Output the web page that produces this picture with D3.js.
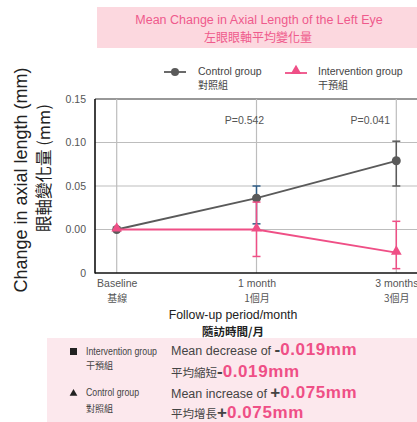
<!DOCTYPE html>
<html><head><meta charset="utf-8">
<script src="https://cdn.jsdelivr.net/npm/d3@7"></script>
<style>
html,body{margin:0;padding:0;background:#fff;}
text{font-family:"Liberation Sans",Arial,"Noto Sans CJK TC",sans-serif;}
</style></head>
<body>
<svg id="c" width="417" height="422"></svg>
<script>
const categories = ["Baseline", "1 month", "3 months"];
const categoriesZh = ["基線", "1個月", "3個月"];
const controlValues = [0, 0.036, 0.079];
const controlErrLow = [0, 0.0065, 0.050];
const controlErrHigh = [0, 0.050, 0.1015];
const interventionValues = [0, 0, -0.0265];
const interventionErrLow = [0, -0.031, -0.045];
const interventionErrHigh = [0, 0.0315, 0.0094];
const yTickValues = [-0.05, 0, 0.05, 0.10, 0.15];
const yTickLabels = ["0", "0.00", "0.05", "0.10", "0.15"];
const pLabels = ["", "P=0.542", "P=0.041"];

const svg = d3.select("#c");
const pink = "#ef4f86", grey = "#5a5a5a", cjk = '"Noto Sans CJK TC","Liberation Sans",sans-serif';
const sans = '"Liberation Sans",Arial,sans-serif';

// title box
svg.append("rect").attr("x",97).attr("y",7).attr("width",320).attr("height",41).attr("fill","#fcd8df");
svg.append("text").attr("x",259).attr("y",24).attr("text-anchor","middle").attr("font-size",12.5).attr("fill","#ef5a8c").text("Mean Change in Axial Length of the Left Eye");
svg.append("text").attr("x",258).attr("y",42).attr("text-anchor","middle").attr("font-size",12).attr("fill","#ef5a8c").style("font-family",cjk).text("左眼眼軸平均變化量");

// scales
const x = d3.scalePoint().domain(categories).range([116.7, 396.3]);
const y = d3.scaleLinear().domain([-0.05, 0.15]).range([273, 99]);
const left = 95, right = 440;

// grid
const g = svg.append("g");
g.selectAll(".hg").data(yTickValues.slice(1)).join("line")
  .attr("x1",left).attr("x2",right).attr("y1",d=>y(d)).attr("y2",d=>y(d))
  .attr("stroke",d=>d===0.15?"#333":"#bdbdbd").attr("stroke-width",1.2);
g.selectAll(".vg").data(categories).join("line")
  .attr("x1",d=>x(d)).attr("x2",d=>x(d)).attr("y1",y(0.15)).attr("y2",y(-0.05))
  .attr("stroke","#bdbdbd").attr("stroke-width",1.2);
// frame
g.append("line").attr("x1",left).attr("x2",left).attr("y1",y(0.15)).attr("y2",y(-0.05)+0.5).attr("stroke","#111").attr("stroke-width",1.6);
g.append("line").attr("x1",left).attr("x2",right).attr("y1",y(-0.05)).attr("y2",y(-0.05)).attr("stroke","#111").attr("stroke-width",1.6);

// y axis labels
const yAxis = d3.axisLeft(y).tickValues(yTickValues).tickSize(0).tickPadding(9)
  .tickFormat((d,i)=>yTickLabels[i]);
const ya = svg.append("g").attr("transform",`translate(${left},0)`).call(yAxis);
ya.select(".domain").remove();
ya.selectAll("text").attr("font-size",10.5).attr("fill","#555").style("font-family",sans);

// x axis labels
const xAxis = d3.axisBottom(x).tickSize(0).tickPadding(7);
const xa = svg.append("g").attr("transform",`translate(0,${y(-0.05)})`).call(xAxis);
xa.select(".domain").remove();
xa.selectAll("text").attr("font-size",10.5).attr("fill","#555").style("font-family",sans);
xa.selectAll(".tick").append("text").attr("y",22).attr("dy","0.71em").attr("fill","#555").attr("font-size",10)
  .style("font-family",cjk).text((d,i)=>categoriesZh[i]);

svg.append("text").attr("x",233).attr("y",319).attr("text-anchor","middle").attr("font-size",12.3).attr("fill","#222").text("Follow-up period/month");
svg.append("text").attr("x",233).attr("y",336).attr("text-anchor","middle").attr("font-size",11.5).attr("font-weight","bold").attr("fill","#222").style("font-family",cjk).text("隨訪時間/月");

// y title
svg.append("text").attr("transform","translate(27,180) rotate(-90)").attr("text-anchor","middle").attr("font-size",18).attr("fill","#222").text("Change in axial length (mm)");
svg.append("text").attr("transform","translate(50,168) rotate(-90)").attr("text-anchor","middle").attr("font-size",16.5).attr("fill","#222").style("font-family",cjk).text("眼軸變化量 (mm)");

// P labels
const pOffset = [0, -12, -26];
svg.selectAll(".p").data(categories).join("text")
  .attr("x",(d,i)=>x(d)+pOffset[i]).attr("y",124).attr("text-anchor","middle").attr("font-size",10.5).attr("fill","#555")
  .text((d,i)=>pLabels[i]);

// error bars
function errBars(lo, hi, colorFn){
  categories.forEach((c,i)=>{
    if (lo[i]===hi[i]) return;
    const cx = x(c), col = colorFn(i);
    svg.append("line").attr("x1",cx).attr("x2",cx).attr("y1",y(lo[i])).attr("y2",y(hi[i])).attr("stroke",col).attr("stroke-width",1.5);
    [lo[i],hi[i]].forEach(v=>svg.append("line").attr("x1",cx-4).attr("x2",cx+4).attr("y1",y(v)).attr("y2",y(v)).attr("stroke",col).attr("stroke-width",1.5));
  });
}
errBars(controlErrLow, controlErrHigh, i=>i===1?"#2f5d86":grey);

const line = d3.line().x((d,i)=>x(categories[i])).y(d=>y(d));
svg.append("path").datum(controlValues).attr("d",line).attr("fill","none").attr("stroke",grey).attr("stroke-width",1.8);
svg.selectAll(".cp").data(controlValues).join("circle").attr("cx",(d,i)=>x(categories[i])).attr("cy",d=>y(d)).attr("r",4.5).attr("fill",grey);

errBars(interventionErrLow, interventionErrHigh, ()=>pink);
svg.append("path").datum(interventionValues).attr("d",line).attr("fill","none").attr("stroke",pink).attr("stroke-width",1.8);
const tri = d3.symbol().type(d3.symbolTriangle).size(50);
svg.selectAll(".ip").data(interventionValues).join("path").attr("d",tri)
  .attr("transform",(d,i)=>`translate(${x(categories[i])},${y(d)-1})`).attr("fill",pink);

// legend
const lg = svg.append("g");
lg.append("line").attr("x1",164).attr("x2",186).attr("y1",72).attr("y2",72).attr("stroke",grey).attr("stroke-width",1.8);
lg.append("circle").attr("cx",175).attr("cy",72).attr("r",4).attr("fill",grey);
lg.append("text").attr("x",198).attr("y",75).attr("font-size",10.5).attr("fill","#444").text("Control group");
lg.append("text").attr("x",198).attr("y",89).attr("font-size",10).attr("fill","#444").style("font-family",cjk).text("對照組");
lg.append("line").attr("x1",285).attr("x2",307).attr("y1",73).attr("y2",73).attr("stroke",pink).attr("stroke-width",1.8);
lg.append("path").attr("d",tri).attr("transform","translate(296,71)").attr("fill",pink);
lg.append("text").attr("x",318).attr("y",75).attr("font-size",10.5).attr("fill","#444").text("Intervention group");
lg.append("text").attr("x",318).attr("y",89).attr("font-size",10).attr("fill","#444").style("font-family",cjk).text("干預組");

// bottom box
svg.append("rect").attr("x",47).attr("y",338).attr("width",370).attr("height",84).attr("fill","#fce8ed");
svg.append("rect").attr("x",70).attr("y",348).attr("width",7).attr("height",7).attr("fill","#222");
svg.append("text").attr("x",86).attr("y",355).attr("font-size",10.5).attr("fill","#444").attr("textLength",71).attr("lengthAdjust","spacingAndGlyphs").text("Intervention group");
svg.append("text").attr("x",86).attr("y",369).attr("font-size",9.5).attr("fill","#444").attr("textLength",27).attr("lengthAdjust","spacingAndGlyphs").style("font-family",cjk).text("干預組");
svg.append("path").attr("d",d3.symbol().type(d3.symbolTriangle).size(26)).attr("transform","translate(73.5,393.5)").attr("fill","#222");
svg.append("text").attr("x",86).attr("y",396).attr("font-size",10.5).attr("fill","#444").attr("textLength",53).attr("lengthAdjust","spacingAndGlyphs").text("Control group");
svg.append("text").attr("x",86).attr("y",412).attr("font-size",9.5).attr("fill","#444").attr("textLength",27).attr("lengthAdjust","spacingAndGlyphs").style("font-family",cjk).text("對照組");

function statLine(yy, pre, sign, num, preSize, font){
  const t = svg.append("text").attr("x",171).attr("y",yy).attr("fill","#444");
  t.append("tspan").attr("font-size",preSize).style("font-family",font).text(pre);
  t.append("tspan").attr("font-size",17).attr("font-weight","bold").attr("fill","#444").text(sign);
  t.append("tspan").attr("font-size",17).attr("font-weight","bold").attr("letter-spacing",0.6).attr("fill",pink).text(num);
}
statLine(355, "Mean decrease of ", "-", "0.019mm", 12.5, sans);
statLine(377, "平均縮短", "-", "0.019mm", 11.5, cjk);
statLine(398, "Mean increase of ", "+", "0.075mm", 12.5, sans);
statLine(418, "平均增長", "+", "0.075mm", 11.5, cjk);
</script>
</body></html>
